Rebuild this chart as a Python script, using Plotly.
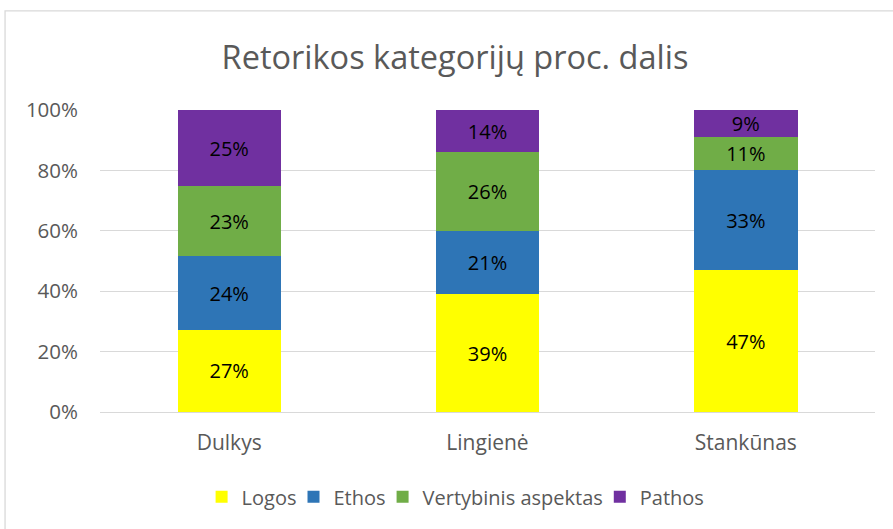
import plotly.graph_objects as go

categories = ["Dulkys", "Lingienė", "Stankūnas"]
logos = [27, 39, 47]
ethos = [24, 21, 33]
vertybinis = [23, 26, 11]
pathos = [25, 14, 9]
y_ticks = [0, 20, 40, 60, 80, 100]
y_tick_labels = ["0%", "20%", "40%", "60%", "80%", "100%"]

series = [
    ("Logos", logos, "#FFFF00"),
    ("Ethos", ethos, "#2E75B6"),
    ("Vertybinis aspektas", vertybinis, "#70AD47"),
    ("Pathos", pathos, "#7030A0"),
]

FONT = "Open Sans"
fig = go.Figure()
for name, vals, col in series:
    fig.add_trace(go.Bar(
        x=categories, y=vals, name=name,
        marker=dict(color=col, line=dict(width=0)),
        texttemplate="%{y:.0f}%",
        textposition="inside", insidetextanchor="middle",
        textfont=dict(family=FONT, size=20, color="#000000"),
        constraintext="none",
    ))

fig.update_layout(
    barmode="stack", barnorm="percent", bargap=0.6,
    width=893, height=529,
    margin=dict(l=100, r=18, t=110, b=117),
    paper_bgcolor="white", plot_bgcolor="white",
    title=dict(text="Retorikos kategorijų proc. dalis", x=455 / 893, xref="container",
               xanchor="center", y=1 - 58 / 529, yref="container", yanchor="middle",
               font=dict(family=FONT, size=32.5, color="#595959")),
    xaxis=dict(showgrid=False, showline=False, ticks="", ticklabelstandoff=16,
               tickfont=dict(family=FONT, size=21, color="#595959")),
    yaxis=dict(range=[0, 100], tickvals=y_ticks, ticktext=y_tick_labels,
               showgrid=True, gridcolor="#D9D9D9", gridwidth=1.3,
               zeroline=True, zerolinecolor="#D9D9D9", zerolinewidth=1.3,
               ticks="", ticklabelstandoff=21,
               tickfont=dict(family=FONT, size=20.5, color="#595959")),
    legend=dict(orientation="h", x=0.464, xanchor="center", y=-0.281, yanchor="middle",
                font=dict(family=FONT, size=20, color="#595959"),
                itemwidth=30, indentation=-8, traceorder="normal"),
    shapes=[dict(type="rect", xref="paper", yref="paper",
                 x0=-0.1225, x1=1.2, y0=-0.5, y1=1.328,
                 line=dict(color="#D9D9D9", width=1.3), layer="below")],
)

fig.write_html("out.html", config={"displayModeBar": False},
               post_script="document.body.style.margin='0';")
